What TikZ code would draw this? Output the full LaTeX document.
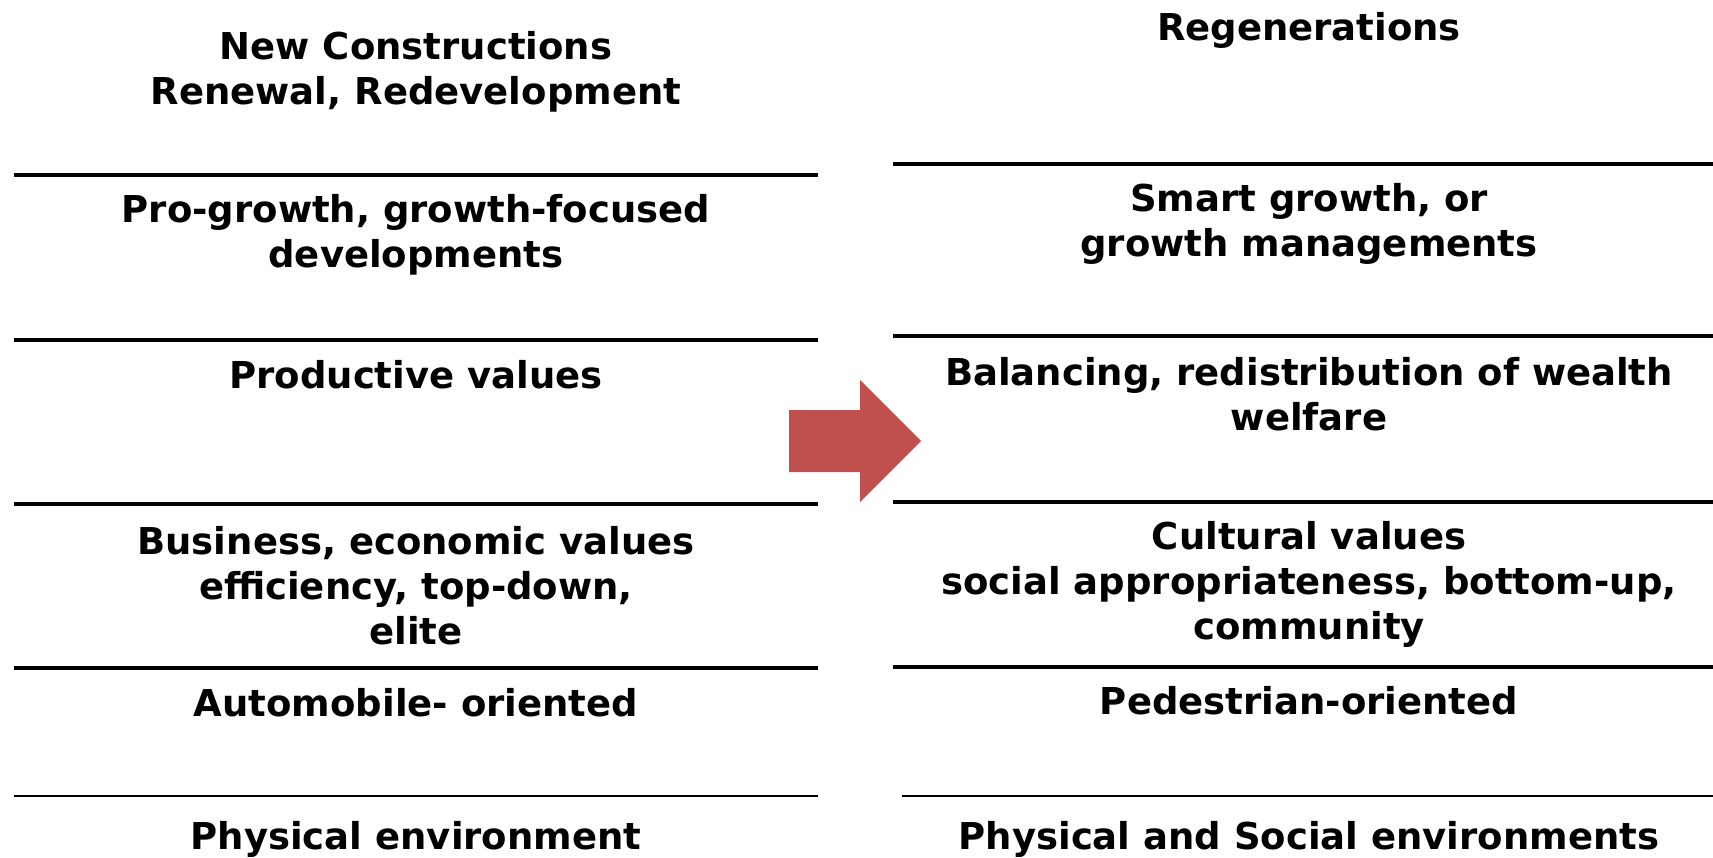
\documentclass[tikz,border=0pt]{standalone}
\usepackage{fontspec}
\setmainfont{DejaVu Sans}
\definecolor{arrowred}{RGB}{192,80,77}

\begin{document}
\begin{tikzpicture}[x=0.5pt,y=0.5pt,yscale=-1,xscale=1,
	every node/.style={font=\fontsize{18.5}{22.5}\selectfont\bfseries, align=center, inner sep=0pt},
	rule/.style={line width=1.6pt},
	thinrule/.style={line width=1.15pt}]
	\path[use as bounding box] (0,0) rectangle (1713,857);
	
	%Straight Lines (left column)
	\draw [rule]  (14,175) -- (818,175) ;
	\draw [rule]  (14,340) -- (818,340) ;
	\draw [rule]  (14,504) -- (818,504) ;
	\draw [rule]  (14,668) -- (818,668) ;
	\draw [thinrule]  (14,796) -- (818,796) ;
	
	%Straight Lines (right column)
	\draw [rule]  (893,164) -- (1713,164) ;
	\draw [rule]  (893,336) -- (1713,336) ;
	\draw [rule]  (893,502) -- (1713,502) ;
	\draw [rule]  (893,667) -- (1713,667) ;
	\draw [thinrule]  (902,796) -- (1713,796) ;
	
	%Shape: Right Arrow
	\fill [arrowred] (789,410) -- (860,410) -- (860,380) -- (921,441) -- (860,502) -- (860,472) -- (789,472) -- cycle ;
	
	% Text Node
	\node (newc) at (416,72) {New Constructions\\Renewal, Redevelopment};
	% Text Node
	\node (prog) at (416,235) {Pro-growth, growth-focused\\developments};
	% Text Node
	\node (prodv) at (416,375) {Productive values};
	% Text Node
	\node (busv) at (416,586) {Business, economic values\\efficiency, top-down,\\elite};
	% Text Node
	\node (auto) at (416,703) {Automobile- oriented};
	% Text Node
	\node (physl) at (416,839) {Physical environment};
	
	% Text Node
	\node (regen) at (1309,30) {Regenerations};
	% Text Node
	\node (smart) at (1309,224) {Smart growth, or\\growth managements};
	% Text Node
	\node (bal) at (1309,394) {Balancing, redistribution of wealth\\welfare};
	% Text Node
	\node (cult) at (1309,584) {Cultural values\\social appropriateness, bottom-up,\\community};
	% Text Node
	\node (ped) at (1309,701) {Pedestrian-oriented};
	% Text Node
	\node (physr) at (1309,839) {Physical and Social environments};
\end{tikzpicture}
\end{document}
